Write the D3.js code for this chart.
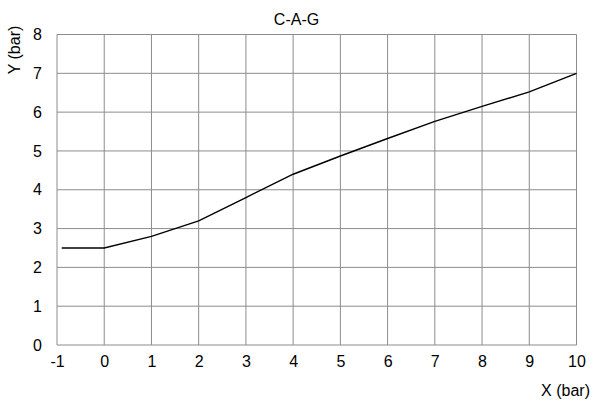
<!DOCTYPE html>
<html>
<head>
<meta charset="utf-8">
<script src="https://cdn.jsdelivr.net/npm/d3@7"></script>
<style>
  body { margin: 0; background: #fff; }
  svg { display: block; font-family: "Liberation Sans", Arial, sans-serif; }
</style>
</head>
<body>
<svg id="chart" width="593" height="401"></svg>
<script>
// data
const xValues = [-0.9, 0, 1, 2, 3, 4, 5, 6, 7, 8, 9, 10];
const yValues = [2.5, 2.5, 2.8, 3.2, 3.8, 4.4, 4.87, 5.32, 5.76, 6.15, 6.52, 7.0];
const xTicks = [-1, 0, 1, 2, 3, 4, 5, 6, 7, 8, 9, 10];
const yTicks = [0, 1, 2, 3, 4, 5, 6, 7, 8];

const svg = d3.select('#chart');
const margin = { left: 57, right: 16.5, top: 34.5, bottom: 56 };
const width = 593 - margin.left - margin.right;
const height = 401 - margin.top - margin.bottom;

const x = d3.scaleLinear().domain([-1, 10]).range([0, width]);
const y = d3.scaleLinear().domain([0, 8]).range([height, 0]);

const g = svg.append('g')
  .attr('transform', `translate(${margin.left},${margin.top})`);

// grid
g.append('g')
  .selectAll('line')
  .data(xTicks)
  .enter()
  .append('line')
  .attr('x1', d => x(d)).attr('x2', d => x(d))
  .attr('y1', 0).attr('y2', height)
  .style('stroke', '#8c8c8c')
  .style('stroke-width', 1);

g.append('g')
  .selectAll('line')
  .data(yTicks)
  .enter()
  .append('line')
  .attr('x1', 0).attr('x2', width)
  .attr('y1', d => y(d)).attr('y2', d => y(d))
  .style('stroke', '#8c8c8c')
  .style('stroke-width', 1);

// x axis labels (plain hyphen for the minus sign)
const xAxis = g.append('g')
  .attr('transform', `translate(0,${height})`)
  .call(d3.axisBottom(x).tickValues(xTicks).tickSize(0).tickPadding(11).tickFormat(d => String(d)));
xAxis.select('.domain').remove();
xAxis.selectAll('text').style('font-size', '16px').style('fill', '#000')
  .style('font-family', '"Liberation Sans", Arial, sans-serif');

// y axis labels
const yAxis = g.append('g')
  .call(d3.axisLeft(y).tickValues(yTicks).tickSize(0).tickPadding(15).tickFormat(d => String(d)));
yAxis.select('.domain').remove();
yAxis.selectAll('text').style('font-size', '16px').style('fill', '#000')
  .style('font-family', '"Liberation Sans", Arial, sans-serif');

// the curve
const points = xValues.map((v, i) => [v, yValues[i]]);
g.append('path')
  .datum(points)
  .attr('d', d3.line().x(d => x(d[0])).y(d => y(d[1])))
  .style('fill', 'none')
  .style('stroke', '#000')
  .style('stroke-width', 1.4);

// title and axis titles
svg.append('text')
  .attr('x', 296.5)
  .attr('y', 25)
  .attr('text-anchor', 'middle')
  .style('font-size', '16px')
  .text('C-A-G');

svg.append('text')
  .attr('transform', 'translate(20,50) rotate(-90)')
  .attr('text-anchor', 'middle')
  .style('font-size', '16px')
  .text('Y (bar)');

svg.append('text')
  .attr('x', 590)
  .attr('y', 396)
  .attr('text-anchor', 'end')
  .style('font-size', '16px')
  .text('X (bar)');
</script>
</body>
</html>
